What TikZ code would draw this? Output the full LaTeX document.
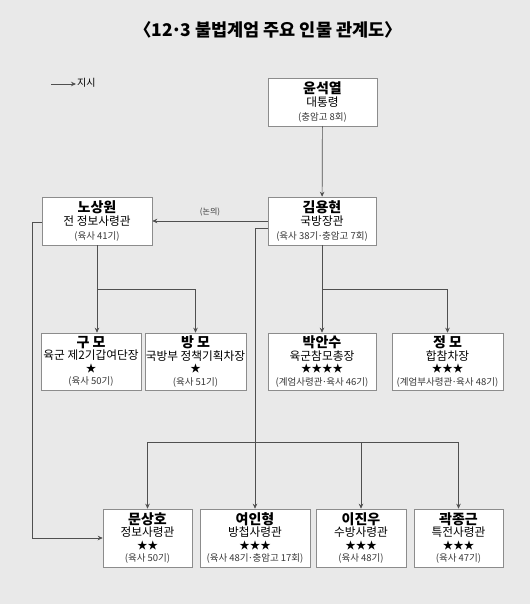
\documentclass[tikz,border=0pt]{standalone}
\usepackage{fontspec}
\setmainfont{Noto Sans CJK KR}
\usetikzlibrary{positioning,arrows.meta}
\definecolor{bggray}{RGB}{233,233,233}
\definecolor{boxline}{RGB}{140,140,140}
\definecolor{wire}{RGB}{80,80,80}
\definecolor{subtxt}{RGB}{55,55,55}
\newcommand{\pname}[1]{{\fontsize{14}{14}\selectfont\bfseries #1}}
\newcommand{\prank}[1]{{\fontsize{11.7}{13}\selectfont #1}}
\newcommand{\pstar}[1]{{\fontsize{10.5}{12}\selectfont #1}}
\newcommand{\pnote}[1]{{\fontsize{9.5}{12}\selectfont\color{subtxt}#1}}
\newcommand{\mdot}{\kern-0.08em·\kern-0.08em}

\begin{document}
\begin{tikzpicture}[
  x=1pt,y=-1pt,
  pbox/.style={draw=boxline,fill=white,line width=0.6pt,align=center,inner sep=0pt,
    minimum height=57pt,font=\fontsize{10}{12.4}\selectfont},
  tribox/.style={pbox,minimum height=48pt,font=\fontsize{10}{13.5}\selectfont},
  sig/.style={-{Stealth[length=5pt,width=4.5pt]},draw=wire,line width=0.7pt},
]
\fill[bggray] (0,0) rectangle (530,604);
\useasboundingbox (0,0) rectangle (530,604);
% title and legend
\node[font=\fontsize{17.5}{17.5}\selectfont\bfseries] (ttl) at (268,30) {〈12\mdot 3 불법계엄 주요 인물 관계도〉};
\coordinate (lgs) at (51,84);
\node[anchor=west,inner sep=1pt,font=\fontsize{10}{12}\selectfont] (lgd) at (76,83) {지시};
\draw[sig] (lgs) -- (lgd.west |- lgs);
% top
\node[tribox,minimum width=109pt] (yoon) at (322.5,102)
  {\pname{윤석열}\\\prank{대통령}\\\pnote{(충암고 8회)}};
\node[tribox,minimum width=108pt] (kim) at (322,221)
  {\pname{김용현}\\\prank{국방장관}\\\pnote{(육사 38기\mdot 충암고 7회)}};
\node[tribox,minimum width=110pt] (noh) at (97,221)
  {\pname{노상원}\\\prank{전 정보사령관}\\\pnote{(육사 41기)}};
% middle row
\node[pbox,minimum width=100pt] (koo) at (91,361.5)
  {\pname{구 모}\\\prank{육군 제2기갑여단장}\\\pstar{★}\\\pnote{(육사 50기)}};
\node[pbox,minimum width=101pt] (bang) at (195.5,361.5)
  {\pname{방 모}\\\prank{국방부 정책기획차장}\\\pstar{★}\\\pnote{(육사 51기)}};
\node[pbox,minimum width=108pt] (park) at (322,361.5)
  {\pname{박안수}\\\prank{육군참모총장}\\\pstar{★★★★}\\\pnote{(계엄사령관\mdot 육사 46기)}};
\node[pbox,minimum width=111pt] (jung) at (447.5,361.5)
  {\pname{정 모}\\\prank{합참차장}\\\pstar{★★★}\\\pnote{(계엄부사령관\mdot 육사 48기)}};
% bottom row
\node[pbox,minimum width=89pt,minimum height=58pt] (moon) at (147.5,538)
  {\pname{문상호}\\\prank{정보사령관}\\\pstar{★★}\\\pnote{(육사 50기)}};
\node[pbox,minimum width=110pt,minimum height=58pt] (yeo) at (255,538)
  {\pname{여인형}\\\prank{방첩사령관}\\\pstar{★★★}\\\pnote{(육사 48기\mdot 충암고 17회)}};
\node[pbox,minimum width=90pt,minimum height=58pt] (lee) at (361,538)
  {\pname{이진우}\\\prank{수방사령관}\\\pstar{★★★}\\\pnote{(육사 48기)}};
\node[pbox,minimum width=89pt,minimum height=58pt] (kwak) at (458.5,538)
  {\pname{곽종근}\\\prank{특전사령관}\\\pstar{★★★}\\\pnote{(육사 47기)}};
% connectors
\draw[sig] (yoon) -- (kim);
\draw[sig] (kim.west) -- (noh.east)
  node[midway,above=1pt,font=\fontsize{8}{9}\selectfont,text=subtxt] {(논의)};
\coordinate (nj) at (97,289);
\draw[sig] (noh.south) -- (noh.south |- koo.north);
\draw[sig] (nj) -| (bang.north);
\coordinate (kj) at (322,289);
\draw[sig] (kim.south) -- (park.north);
\draw[sig] (kj) -| (jung.north);
\draw[sig] ([yshift=-7pt]kim.west) -| (yeo.north);
\coordinate (bus) at (255,442);
\draw[sig] (bus) -| (moon.north);
\draw[sig] (bus) -| (lee.north);
\draw[sig] (bus) -| (kwak.north);
\draw[sig] ([yshift=-1pt]noh.west) -- ++(-9,0) |- (moon.west);
\end{tikzpicture}
\end{document}
